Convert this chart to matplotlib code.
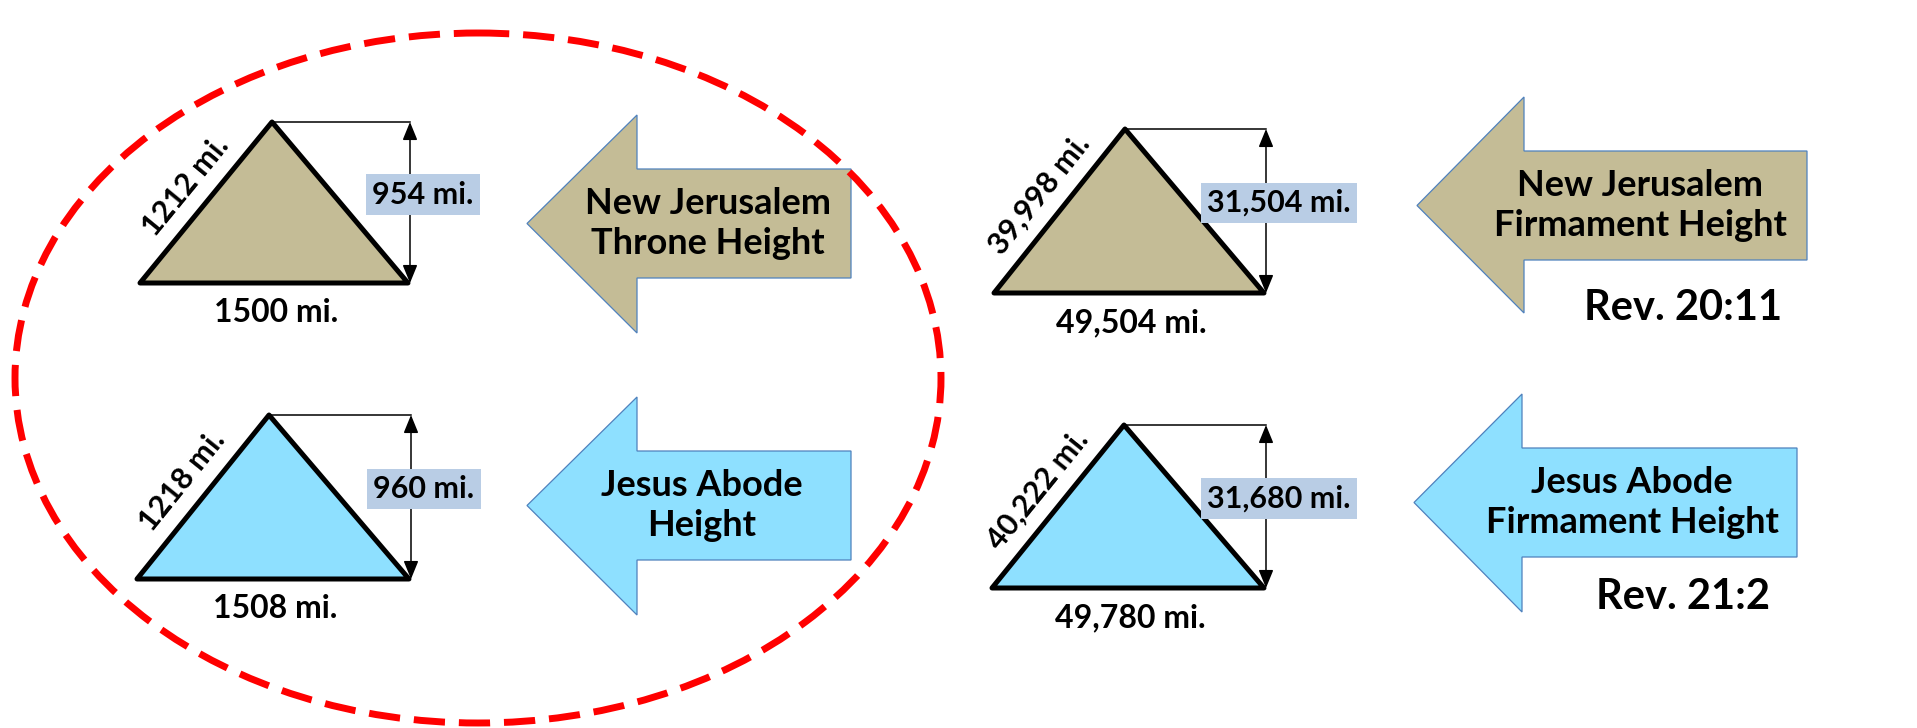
import math
import matplotlib
matplotlib.use("Agg")
import matplotlib.pyplot as plt
from matplotlib.patches import Polygon, Ellipse

plt.rcParams['font.family'] = ['Lato', 'DejaVu Sans']
plt.rcParams['font.weight'] = 'bold'

# values shown in the diagram
base_labels = ["1500 mi.", "1508 mi.", "49,504 mi.", "49,780 mi."]
side_labels = ["1212 mi.", "1218 mi.", "39,998 mi.", "40,222 mi."]
height_labels = ["954 mi.", "960 mi.", "31,504 mi.", "31,680 mi."]
arrow_labels = ["New Jerusalem\nThrone Height", "Jesus Abode\nHeight",
                "New Jerusalem\nFirmament Height", "Jesus Abode\nFirmament Height"]
ref_labels = ["", "", "Rev. 20:11", "Rev. 21:2"]
fills = ["#C4BC96", "#8EE0FF", "#C4BC96", "#8EE0FF"]

# layout (pixel coords, y down)
# triangle: base left x, apex x, base right x, apex y, base y
tri = [(140, 272, 408, 122, 283),
       (137, 269, 409, 415, 579),
       (994, 1125, 1264, 129, 293),
       (992, 1124, 1264, 425, 588)]
# arrow: tip x, head x, right x, head top, shaft top, shaft bottom, head bottom, text x
arr = [(527, 637, 851, 115, 169, 278, 333, 708),
       (527, 637, 851, 397, 451, 560, 615, 702),
       (1417, 1524, 1807, 97, 151, 260, 313, 1640),
       (1414, 1522, 1797, 394, 448, 557, 612, 1632)]
ref_pos = [None, None, (1683, 308), (1683, 597)]

fig = plt.figure(figsize=(19.17, 7.28), dpi=100)
ax = fig.add_axes([0, 0, 1, 1])
ax.set_xlim(0, 1917)
ax.set_ylim(728, 0)
ax.axis('off')

for i in range(4):
    xl, xa, xr, ya, yb = tri[i]
    ax.add_patch(Polygon([(xl, yb), (xa, ya), (xr, yb)], closed=True,
                         facecolor=fills[i], edgecolor='black', lw=3.6,
                         joinstyle='round', zorder=2))
    # height dimension
    dx = xr + 2
    ax.plot([xa, dx], [ya, ya], color='black', lw=1.1, zorder=3)
    ax.annotate('', xy=(dx, ya), xytext=(dx, yb),
                arrowprops=dict(arrowstyle='<|-|>,head_length=1.1,head_width=0.45',
                                color='black', lw=1.1, shrinkA=0, shrinkB=0),
                zorder=3)
    ax.text(dx + 13, (ya + yb) / 2 - 8, height_labels[i], fontsize=22,
            ha='center', va='center', zorder=4,
            bbox=dict(boxstyle='square,pad=0.2', facecolor='#B9CDE5', edgecolor='none'))
    # base label
    ax.text((xl + xr) / 2 + 2, yb + 30, base_labels[i], fontsize=23,
            ha='center', va='center')
    # side label, along the left edge
    sx, sy = xa - xl, ya - yb
    L = math.hypot(sx, sy)
    nx, ny = sy / L, -sx / L
    if nx > 0:
        nx, ny = -nx, -ny
    ang = math.degrees(math.atan2(-sy, sx))
    ax.text((xl + xa) / 2 + nx * 26, (ya + yb) / 2 + ny * 26, side_labels[i],
            fontsize=22, rotation=ang, rotation_mode='anchor',
            ha='center', va='center')

    # big arrow
    tx, hx, rx, ht, st, sb, hb, txt_x = arr[i]
    ym = (st + sb) / 2
    ax.add_patch(Polygon([(tx, ym), (hx, ht), (hx, st), (rx, st), (rx, sb),
                          (hx, sb), (hx, hb)], closed=True,
                         facecolor=fills[i], edgecolor='#4F81BD', lw=0.9, zorder=2))
    ax.text(txt_x, ym, arrow_labels[i], fontsize=26, ha='center', va='center',
            linespacing=1.25, zorder=4)
    if ref_labels[i]:
        ax.text(ref_pos[i][0], ref_pos[i][1], ref_labels[i], fontsize=30,
                ha='center', va='center')

ax.add_patch(Ellipse((478, 378), 926, 690, fill=False, edgecolor='#FF0000',
                     lw=5, linestyle=(0, (4.5, 2)), zorder=5))

fig.savefig('out.png', dpi=100)
